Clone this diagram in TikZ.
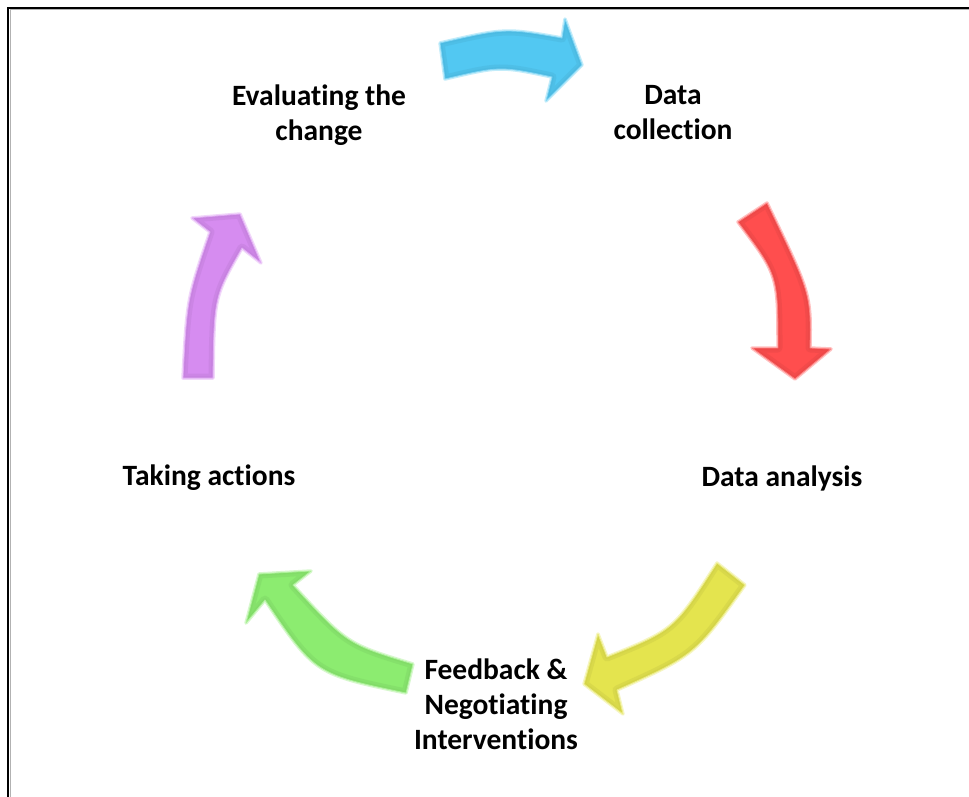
\documentclass[tikz,border=0pt]{standalone}
\usepackage{fontspec}
\setmainfont{Carlito}[Ligatures=NoCommon]
\newcommand{\bevelarrow}[2]{%
  \draw[draw=#1!35, line width=3.5pt, line join=round] #2;
  \fill[#1] #2;
  \begin{scope}
    \clip #2;
    \draw[#1!80!black, opacity=0.22, line width=9pt, line join=round] #2;
    \draw[#1!85!black, opacity=0.2, line width=4pt, line join=round] #2;
  \end{scope}
  \draw[#1!70, line width=0.8pt, line join=round] #2;
}
\begin{document}
\begin{tikzpicture}[x=1pt,y=-1pt,
  lbl/.style={font=\bfseries\fontsize{29.5}{35}\selectfont, align=center, inner sep=0pt, text=black}]
\definecolor{acyan}{RGB}{82,200,242}
\definecolor{ared}{RGB}{255,78,78}
\definecolor{ayel}{RGB}{228,228,78}
\definecolor{agrn}{RGB}{140,236,112}
\definecolor{apur}{RGB}{214,140,240}
\useasboundingbox (0,0) rectangle (969,797);
\fill[white] (0,0) rectangle (969,797);
% frame
\draw[gray!60, line width=1pt] (10,797) -- (10,10) -- (969,10);
\draw[black, line width=1.6pt] (8,797) -- (8,8) -- (969,8);

% labels
\node[lbl] (eval) at (319,115) {Evaluating the\\change};
\node[lbl] (coll) at (673,113) {Data\\collection};
\node[lbl] (anal) at (782,478) {Data analysis};
\node[lbl] (feed) at (496,704) {Feedback \&\\Negotiating\\Interventions};
\node[lbl] (take) at (209,478) {Taking actions};

% arrows
\bevelarrow{acyan}{(440,43) .. controls (505,28) .. (562,38) -- (565,19) -- (582,65) -- (546,101) -- (552,77) .. controls (500,66) .. (445,79) -- cycle}
\bevelarrow{ared}{(767,203) .. controls (811,294) .. (810,348) -- (831,349) -- (795,379) -- (752,348) -- (778,348) .. controls (778,275) .. (738,222) -- cycle}
\bevelarrow{ayel}{(745,585) .. controls (695,655) .. (617,690) -- (623,714) -- (584,684) -- (598,634) -- (607,657) .. controls (674,630) .. (717,563) -- cycle}
\bevelarrow{agrn}{(406,693) .. controls (315,674) .. (265,600) -- (246,623) -- (259,574) -- (311,571) -- (293,585) .. controls (347,644) .. (413,664) -- cycle}
\bevelarrow{apur}{(183,378) .. controls (187,299) .. (210,232) -- (192,218) -- (240,214) -- (261,263) -- (242,248) .. controls (214,297) .. (213,378) -- cycle}
\end{tikzpicture}
\end{document}
